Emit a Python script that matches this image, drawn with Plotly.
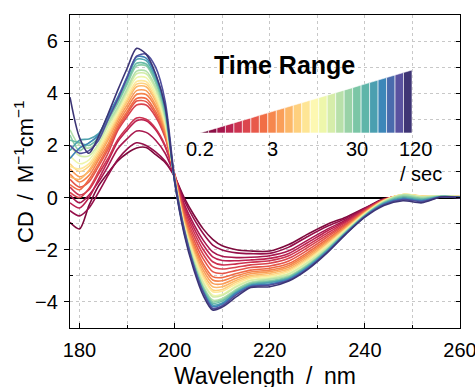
import plotly.graph_objects as go

# ---------------- data ----------------
wavelength_nm = [178, 180, 182, 184, 186, 188, 190, 192, 194, 196, 198, 200, 202, 204, 206,
                 208, 210, 213, 216, 220, 224, 228, 232, 236, 240, 244, 248, 252, 256, 260]

# CD spectra, earliest (0.2 s, dark red) to latest (120 s, dark blue)
cd_00 = [-0.95,-1.2,-0.3,0.45,0.95,1.4,1.7,1.9,1.92,1.65,1.35,0.8,0.0,-0.65,-1.20,-1.60,-1.85,-2.0,-2.05,-2.05,-1.80,-1.40,-1.03,-0.75,-0.40,-0.05,0.04,0.02,0.03,0.00]
cd_01 = [-0.5,-0.7,-0.4,0.2,0.85,1.45,1.86,2.1,2.0,1.75,1.4,0.8,-0.10,-0.80,-1.38,-1.82,-2.01,-2.12,-2.15,-2.14,-1.90,-1.49,-1.11,-0.80,-0.42,-0.06,0.05,0.02,0.03,0.01]
cd_02 = [0.1,-0.2,0.1,0.6,1.2,1.86,2.25,2.55,2.5,2.2,1.7,0.85,-0.24,-1.01,-1.63,-2.08,-2.25,-2.30,-2.29,-2.23,-2.04,-1.63,-1.22,-0.86,-0.44,-0.07,0.05,0.03,0.04,0.01]
cd_03 = [-0.2,-0.4,0.0,0.7,1.4,2.13,2.58,2.95,2.95,2.6,1.95,0.9,-0.34,-1.15,-1.81,-2.27,-2.41,-2.42,-2.39,-2.33,-2.14,-1.72,-1.29,-0.91,-0.46,-0.07,0.06,0.03,0.04,0.02]
cd_04 = [0.4,0.1,0.3,0.9,1.5,2.21,2.68,3.05,3.0,2.65,2.0,0.85,-0.43,-1.30,-1.99,-2.46,-2.58,-2.54,-2.48,-2.42,-2.23,-1.82,-1.37,-0.95,-0.48,-0.08,0.07,0.03,0.05,0.02]
cd_05 = [0.2,0.0,0.35,1.0,1.7,2.56,3.10,3.55,3.55,3.1,2.3,0.9,-0.53,-1.45,-2.17,-2.65,-2.74,-2.67,-2.58,-2.52,-2.33,-1.91,-1.45,-1.00,-0.50,-0.08,0.07,0.04,0.05,0.02]
cd_06 = [0.7,0.4,0.6,1.2,1.85,2.64,3.20,3.7,3.68,3.2,2.35,0.85,-0.63,-1.60,-2.35,-2.84,-2.91,-2.79,-2.68,-2.62,-2.43,-2.01,-1.52,-1.04,-0.52,-0.09,0.08,0.04,0.05,0.03]
cd_07 = [0.5,0.3,0.7,1.3,1.95,2.72,3.29,3.8,3.8,3.3,2.45,0.85,-0.73,-1.74,-2.53,-3.03,-3.07,-2.91,-2.78,-2.71,-2.53,-2.10,-1.60,-1.09,-0.54,-0.09,0.09,0.04,0.06,0.03]
cd_08 = [0.9,0.6,0.85,1.45,2.05,2.83,3.42,3.95,3.95,3.45,2.5,0.8,-0.80,-1.85,-2.65,-3.16,-3.19,-3.00,-2.85,-2.78,-2.60,-2.17,-1.66,-1.12,-0.56,-0.10,0.10,0.05,0.06,0.03]
cd_09 = [1.1,0.8,1.0,1.55,2.2,2.94,3.55,4.1,4.1,3.55,2.6,0.8,-0.87,-1.95,-2.78,-3.29,-3.31,-3.09,-2.92,-2.84,-2.67,-2.24,-1.71,-1.15,-0.58,-0.11,0.10,0.05,0.06,0.04]
cd_10 = [0.8,0.7,1.05,1.65,2.3,3.05,3.68,4.25,4.25,3.7,2.7,0.8,-0.94,-2.06,-2.91,-3.42,-3.42,-3.17,-2.99,-2.90,-2.74,-2.30,-1.77,-1.19,-0.59,-0.11,0.11,0.05,0.07,0.04]
cd_11 = [1.3,1.0,1.2,1.75,2.4,3.10,3.75,4.35,4.35,3.8,2.75,0.75,-0.99,-2.14,-3.01,-3.54,-3.52,-3.24,-3.04,-2.97,-2.79,-2.36,-1.81,-1.21,-0.61,-0.12,0.12,0.05,0.07,0.04]
cd_12 = [1.2,1.1,1.3,1.85,2.5,3.18,3.85,4.45,4.45,3.9,2.85,0.75,-1.04,-2.20,-3.09,-3.61,-3.59,-3.30,-3.09,-3.01,-2.84,-2.40,-1.84,-1.23,-0.62,-0.13,0.12,0.05,0.07,0.04]
cd_13 = [1.6,1.3,1.45,1.95,2.6,3.29,3.98,4.6,4.6,4.0,2.9,0.7,-1.11,-2.31,-3.21,-3.74,-3.71,-3.38,-3.16,-3.06,-2.91,-2.47,-1.90,-1.26,-0.64,-0.14,0.12,0.04,0.07,0.03]
cd_14 = [2.0,1.6,1.6,2.05,2.75,3.37,4.07,4.75,4.75,4.15,3.0,0.7,-1.13,-2.35,-3.27,-3.80,-3.75,-3.42,-3.18,-3.10,-2.93,-2.49,-1.92,-1.28,-0.65,-0.15,0.11,0.03,0.06,0.03]
cd_15 = [2.6,2.0,1.9,2.2,2.85,3.45,4.17,4.85,4.85,4.25,3.1,0.7,-1.20,-2.46,-3.39,-3.93,-3.87,-3.51,-3.25,-3.13,-3.00,-2.56,-1.98,-1.31,-0.67,-0.17,0.10,0.01,0.06,0.03]
cd_16 = [2.4,1.8,2.1,2.35,2.95,3.59,4.33,5.05,5.05,4.4,3.2,0.65,-1.23,-2.50,-3.44,-3.99,-3.92,-3.54,-3.28,-3.19,-3.03,-2.59,-2.00,-1.32,-0.68,-0.19,0.06,-0.03,0.05,0.02]
cd_17 = [2.2,2.1,2.0,2.3,3.0,3.67,4.43,5.15,5.12,4.5,3.3,0.65,-1.26,-2.54,-3.50,-4.05,-3.97,-3.58,-3.31,-3.23,-3.06,-2.62,-2.02,-1.34,-0.69,-0.21,0.02,-0.06,0.04,0.02]
cd_18 = [1.8,2.2,2.25,2.45,3.1,3.78,4.56,5.3,5.25,4.6,3.4,0.65,-1.30,-2.60,-3.57,-4.12,-4.04,-3.63,-3.35,-3.26,-3.10,-2.66,-2.05,-1.35,-0.71,-0.23,-0.02,-0.09,0.04,0.01]
cd_19 = [1.5,1.9,2.1,2.4,3.15,3.83,4.63,5.4,5.35,4.7,3.45,0.6,-1.33,-2.65,-3.62,-4.18,-4.08,-3.66,-3.38,-3.31,-3.13,-2.68,-2.08,-1.37,-0.72,-0.25,-0.05,-0.12,0.03,0.01]
cd_20 = [2.0,1.7,1.8,2.2,3.0,3.75,4.6,5.42,5.5,5.0,3.7,0.75,-1.20,-2.60,-3.62,-4.25,-4.15,-3.72,-3.42,-3.35,-3.17,-2.72,-2.11,-1.39,-0.73,-0.27,-0.08,-0.15,0.02,0.00]
cd_21 = [3.85,2.3,1.7,2.35,3.2,4.10,4.95,5.72,5.5,4.75,3.5,0.6,-1.40,-2.75,-3.75,-4.31,-4.20,-3.80,-3.45,-3.42,-3.20,-2.75,-2.13,-1.40,-0.75,-0.30,-0.12,-0.20,0.02,0.00]

spectra = [cd_00, cd_01, cd_02, cd_03, cd_04, cd_05, cd_06, cd_07, cd_08, cd_09, cd_10,
           cd_11, cd_12, cd_13, cd_14, cd_15, cd_16, cd_17, cd_18, cd_19, cd_20, cd_21]

# colour-wedge legend tick labels
time_labels = ["0.2", "3", "30", "120"]

# ---------------- styles ----------------
curve_colors = ["#7e0a3d", "#95104a", "#a8174d", "#bb2150", "#cc3150", "#d9434e", "#e5564a",
                "#ef6a45", "#f4844c", "#f99d58", "#fcb869", "#fdd280", "#fee89a", "#eef5ab",
                "#d2eca8", "#b2dfaa", "#8ccfa6", "#6bbca7", "#4fa3ae", "#3d84b8", "#4f4e9c",
                "#3c3576"]
wedge_colors = ["#6a0a38", "#8b0f45", "#a5164c", "#bb2350", "#cd3451", "#dc464e", "#e8594a",
                "#f16e45", "#f6874d", "#fa9f59", "#fcb768", "#fed07e", "#fee595", "#fdf8b2",
                "#eef7ab", "#d6edaa", "#b8e0aa", "#99d2a7", "#7bc6a6", "#5fb5a9", "#4b9fb0",
                "#3d87b9", "#4a6bad", "#5a52a0", "#3f3575"]
FONT = "Liberation Sans, Arial, sans-serif"

# plot area on screen: x 70..460, y 15..328 (page body margin removed by post_script)
W_FIG, H_FIG = 475, 387
PL, PT, PR, PB = 70, 15, 475 - 460, 387 - 328


def px2paper_x(px):
    return (px - 70) / 390


def px2paper_y(py):
    return (328 - py) / 313


fig = go.Figure()
for i, ys in enumerate(spectra):
    fig.add_trace(go.Scatter(
        x=wavelength_nm, y=ys, mode="lines",
        line=dict(color=curve_colors[i], width=1.6, shape="spline", smoothing=0.8),
        showlegend=False, hoverinfo="skip"))

# invisible trace to activate the right-hand tick axis
fig.add_trace(go.Scatter(x=[None], y=[None], yaxis="y2", showlegend=False))

# ---------------- colour wedge (legend decoration, paper coords) ----------------
wx0, wx1 = px2paper_x(200), px2paper_x(412)
wyb, wyt = px2paper_y(133), px2paper_y(70)
n = len(wedge_colors)
shapes = []
for k, c in enumerate(wedge_colors):
    xa = wx0 + (wx1 - wx0) * k / n
    xb = wx0 + (wx1 - wx0) * (k + 1) / n
    ya = wyb + (wyt - wyb) * (xa - wx0) / (wx1 - wx0)
    yb = wyb + (wyt - wyb) * (xb - wx0) / (wx1 - wx0)
    shapes.append(dict(type="path", xref="paper", yref="paper",
                       path=f"M {xa},{wyb} L {xb},{wyb} L {xb},{yb} L {xa},{ya} Z",
                       fillcolor=c, line=dict(color="white", width=0.6), layer="above"))

label_px = [200, 272, 357, 415]
annotations = [
    dict(text="<b>Time Range</b>", x=px2paper_x(284), y=px2paper_y(65), xref="paper", yref="paper",
         showarrow=False, font=dict(size=25, color="black", family=FONT), xanchor="center", yanchor="middle"),
    dict(text="/ sec", x=px2paper_x(421), y=px2paper_y(174), xref="paper", yref="paper",
         showarrow=False, font=dict(size=20, color="black", family=FONT), xanchor="center", yanchor="middle"),
    dict(text="Wavelength\u2002/\u2002nm", x=px2paper_x(265), y=px2paper_y(376), xref="paper", yref="paper",
         showarrow=False, font=dict(size=23, color="black", family=FONT), xanchor="center", yanchor="middle"),
    dict(text="CD\u2002/\u2002M<sup>\u22121</sup>cm<sup>\u22121</sup>", x=px2paper_x(24), y=px2paper_y(172),
         xref="paper", yref="paper", textangle=-90, showarrow=False,
         font=dict(size=22, color="black", family=FONT), xanchor="center", yanchor="middle"),
]
for lbl, px in zip(time_labels, label_px):
    annotations.append(dict(text=lbl, x=px2paper_x(px), y=px2paper_y(149), xref="paper", yref="paper",
                            showarrow=False, font=dict(size=20, color="black", family=FONT),
                            xanchor="center", yanchor="middle"))

fig.update_layout(
    width=W_FIG, height=H_FIG,
    margin=dict(l=PL, r=PR, t=PT, b=PB, pad=0, autoexpand=False),
    paper_bgcolor="white", plot_bgcolor="white",
    font=dict(family=FONT, size=20, color="black"),
    shapes=shapes, annotations=annotations,
    xaxis=dict(range=[178, 260], tickvals=[180, 200, 220, 240, 260], ticks="inside", ticklen=5,
               tickwidth=1.2, tickcolor="black", showline=True, linecolor="black", linewidth=1.3,
               mirror=True, showgrid=True, gridcolor="#c8c8c8", griddash="dot", gridwidth=1,
               minor=dict(tickvals=[190, 210, 230, 250], ticks="inside", ticklen=3, tickcolor="black",
                          showgrid=True, gridcolor="#c8c8c8", griddash="dot", gridwidth=1),
               zeroline=False, tickfont=dict(size=20), ticklabelstandoff=4,
               ticklabeloverflow="allow", automargin=False),
    yaxis=dict(range=[-5, 7], tickvals=[-4, -2, 0, 2, 4, 6], ticks="outside", ticklen=5,
               tickwidth=1.2, tickcolor="black", showline=True, linecolor="black", linewidth=1.3,
               mirror=True, showgrid=True, gridcolor="#c8c8c8", griddash="dot", gridwidth=1,
               minor=dict(tickvals=[-3, -1, 1, 3, 5], ticks="inside", ticklen=3, tickcolor="black",
                          showgrid=True, gridcolor="#c8c8c8", griddash="dot", gridwidth=1),
               zeroline=True, zerolinecolor="black", zerolinewidth=1.6, tickfont=dict(size=20),
               ticklabelstandoff=2, automargin=False),
    yaxis2=dict(range=[-5, 7], overlaying="y", side="right", tickvals=[-4, -3, -2, -1, 0, 1, 2, 3, 4, 5, 6],
                ticks="inside", ticklen=4, tickcolor="black", showticklabels=False, showgrid=False,
                zeroline=False, showline=False, automargin=False),
)

fig.write_html("out.html", config={"displayModeBar": False},
               post_script="document.body.style.margin='0';document.body.style.overflow='hidden';")
